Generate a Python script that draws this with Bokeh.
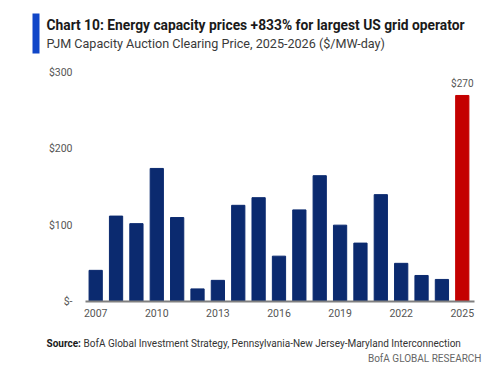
from bokeh.plotting import figure
from bokeh.layouts import column
from bokeh.models import Label, FixedTicker, BoxAnnotation, ColumnDataSource
from bokeh.embed import file_html
from bokeh.resources import INLINE

years = list(range(2007, 2026))
prices = [40.8, 111.9, 102.0, 174.3, 110.0, 16.5, 27.7, 126.0, 136.0, 59.4,
          120.0, 164.8, 100.0, 76.5, 140.0, 50.0, 34.1, 28.9, 269.9]
x_ticks = [2007, 2010, 2013, 2016, 2019, 2022, 2025]
y_ticks = [0, 100, 200, 300]
y_tick_labels = {0: "$-", 100: "$100", 200: "$200", 300: "$300"}
highlight_label = "$270"

title_text = "Chart 10: Energy capacity prices +833% for largest US grid operator"
subtitle_text = "PJM Capacity Auction Clearing Price, 2025-2026 ($/MW-day)"
source_bold = "Source:"
source_text = "BofA Global Investment Strategy, Pennsylvania-New Jersey-Maryland Interconnection"
brand_text = "BofA GLOBAL RESEARCH"

NAVY = "#0b2a6f"
RED = "#c40000"
FONT = "Roboto"

W = 500
HEAD_H, MAIN_H, FOOT_H = 60, 270, 42
FL, FR, FT, FB = 85, 474, 72, 301  # frame edges in page pixels


def blank(height):
    f = figure(width=W, height=height, x_range=(0, 1), y_range=(0, 1),
               output_backend="svg", toolbar_location=None,
               x_axis_location=None, y_axis_location=None,
               min_border=0, min_border_left=0, min_border_right=0,
               min_border_top=0, min_border_bottom=0, frame_align=False)
    f.outline_line_color = None
    f.xgrid.grid_line_color = None
    f.ygrid.grid_line_color = None
    return f


# ---- header ----
head = blank(HEAD_H)
head.add_layout(BoxAnnotation(left=32, right=39, top=HEAD_H - 13, bottom=HEAD_H - 53,
                              left_units="screen", right_units="screen",
                              top_units="screen", bottom_units="screen",
                              fill_color="#1046c8", fill_alpha=1, line_color=None))
head.add_layout(Label(x=46, y=HEAD_H - 24, x_units="screen", y_units="screen", text=title_text,
                      text_font=FONT, text_font_style="bold", text_font_size="13.8px",
                      text_baseline="middle", text_color="#1a1a1a"))
head.add_layout(Label(x=46, y=HEAD_H - 43, x_units="screen", y_units="screen", text=subtitle_text,
                      text_font=FONT, text_font_size="12.6px",
                      text_baseline="middle", text_color="#3a3a3a"))

# ---- main chart ----
colors = [NAVY] * (len(years) - 1) + [RED]
src = ColumnDataSource(dict(x=years, top=prices, color=colors))

top_px = HEAD_H
p = figure(width=W, height=MAIN_H, x_range=(2006.5, 2025.6), y_range=(0, 300),
           output_backend="svg", toolbar_location=None, frame_align=False,
           min_border_left=FL, min_border_right=W - FR,
           min_border_top=FT - top_px, min_border_bottom=top_px + MAIN_H - FB)
p.outline_line_color = None
p.xgrid.grid_line_color = None
p.ygrid.grid_line_color = None

p.vbar(x="x", top="top", width=0.65, color="color", source=src)

p.yaxis.ticker = FixedTicker(ticks=y_ticks)
p.yaxis.major_label_overrides = y_tick_labels
p.yaxis.axis_line_color = None
p.yaxis.major_tick_line_color = None
p.yaxis.minor_tick_line_color = None
p.yaxis.major_tick_out = 0
p.yaxis.major_tick_in = 0
p.yaxis.major_label_standoff = 13
p.yaxis.major_label_text_font = FONT
p.yaxis.major_label_text_font_size = "10.5px"
p.yaxis.major_label_text_color = "#555555"

p.xaxis.ticker = FixedTicker(ticks=x_ticks)
p.xaxis.axis_line_color = "#808080"
p.xaxis.axis_line_width = 2
p.xaxis.major_tick_line_color = None
p.xaxis.minor_tick_line_color = None
p.xaxis.major_tick_out = 0
p.xaxis.major_tick_in = 0
p.xaxis.major_label_standoff = 7
p.xaxis.major_label_text_font = FONT
p.xaxis.major_label_text_font_size = "10.5px"
p.xaxis.major_label_text_color = "#555555"

p.add_layout(Label(x=years[-1], y=prices[-1], text=highlight_label, y_offset=6,
                   text_align="center", text_baseline="bottom", text_font=FONT,
                   text_font_size="10px", text_color="#555555"))

# ---- footer ----
foot = blank(FOOT_H)
foot_top = HEAD_H + MAIN_H
foot.add_layout(Label(x=46, y=foot_top + FOOT_H - 343, x_units="screen", y_units="screen",
                      text=source_bold, text_font=FONT, text_font_style="bold",
                      text_font_size="10px", text_baseline="middle", text_color="#1a1a1a"))
foot.add_layout(Label(x=83, y=foot_top + FOOT_H - 343, x_units="screen", y_units="screen",
                      text=source_text, text_font=FONT, text_font_size="10px",
                      text_baseline="middle", text_color="#333333"))
foot.add_layout(Label(x=481, y=foot_top + FOOT_H - 358, x_units="screen", y_units="screen",
                      text=brand_text, text_font=FONT, text_font_size="10px",
                      text_align="right", text_baseline="middle", text_color="#666666"))

layout = column(head, p, foot, spacing=0)
open("out.html", "w").write(file_html(layout, INLINE))
